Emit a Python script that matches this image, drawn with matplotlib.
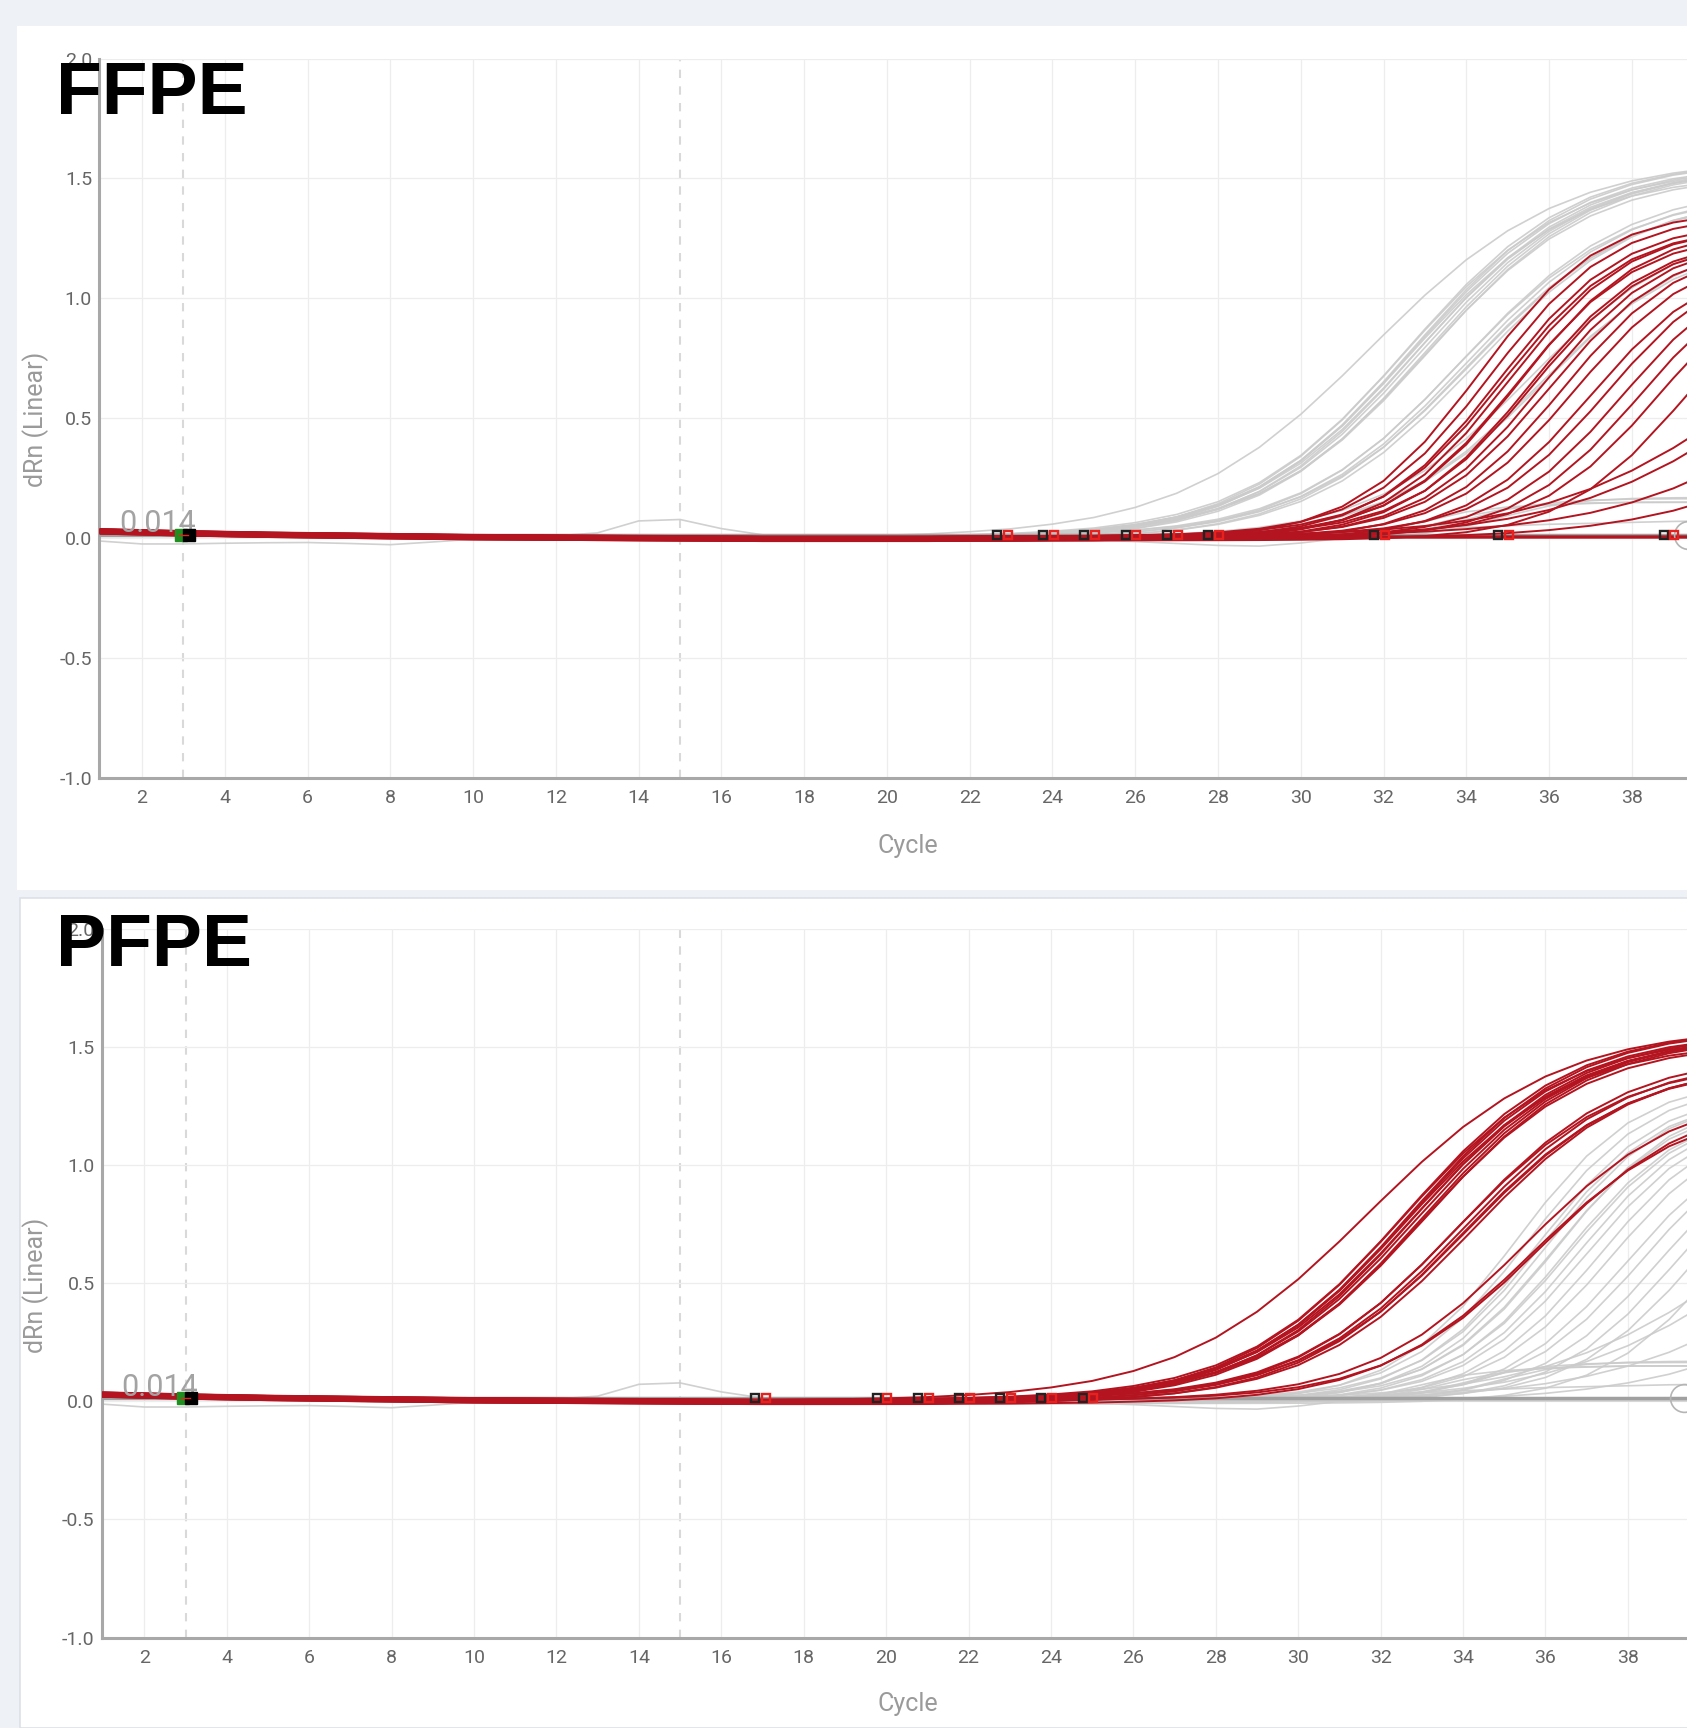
import numpy as np
import matplotlib
matplotlib.use('Agg')
import matplotlib.pyplot as plt
from matplotlib.patches import Rectangle

W, H = 1687, 1728
CYCLES = np.arange(1, 41)

# shared baseline drift of all wells (cycles 1..40)
BASELINE = [0.028, 0.024, 0.020, 0.017, 0.014, 0.012, 0.010, 0.008, 0.006, 0.004,
            0.003, 0.002, 0.001, 0.000, -0.001, -0.002, -0.003, -0.003, -0.003, -0.003,
            -0.003, -0.002, -0.002, -0.001, -0.001, 0.000, 0.000, 0.000, 0.000, 0.000,
            0.000, 0.000, 0.000, 0.000, 0.000, 0.000, 0.000, 0.000, 0.000, 0.000]

# PFPE wells: midpoint cycle, plateau, steepness, baseline offset
PFPE_MID = [31.7, 32.5, 32.6, 32.6, 32.7, 32.7, 32.8, 32.8, 32.9, 33.0, 33.0,
            33.1, 33.8, 33.9, 34.0, 34.0, 34.1, 34.2, 35.5, 35.7, 35.9]
PFPE_PLAT = [1.58, 1.55, 1.57, 1.53, 1.56, 1.58, 1.54, 1.57, 1.55, 1.52, 1.56,
             1.54, 1.45, 1.47, 1.44, 1.46, 1.43, 1.45, 1.32, 1.28, 1.30]
PFPE_SLOPE = [2.3, 2.0, 2.0, 2.0, 2.0, 2.0, 2.0, 2.0, 2.0, 2.0, 2.0,
              2.0, 2.0, 2.0, 2.0, 2.0, 2.0, 2.0, 1.9, 1.9, 1.9]
PFPE_OFF = [0.006, -0.004, 0.009, -0.007, 0.003, -0.001, 0.008, -0.009, 0.001, 0.005, -0.006,
            0.010, -0.003, 0.006, -0.008, 0.000, 0.009, -0.005, 0.003, -0.009, 0.004]

# FFPE wells (midpoints as read in the FFPE panel and in the PFPE panel)
FFPE_MID_TOP = [34.3, 34.6, 34.8, 34.9, 35.0, 35.2, 35.3, 35.5, 35.6, 35.8, 36.0, 36.3,
                36.6, 37.0, 37.4, 37.8, 38.2, 38.7, 39.3, 41.0, 41.5, 43.0, 44.5, 60.0, 60.0]
FFPE_MID_BOT = [35.3, 35.6, 35.8, 35.9, 36.0, 36.2, 36.3, 36.5, 36.6, 36.8, 37.0, 37.3,
                37.6, 38.0, 38.4, 38.8, 39.2, 39.7, 40.3, 41.0, 41.5, 43.0, 44.5, 60.0, 60.0]
FFPE_PLAT = [1.38, 1.35, 1.33, 1.30, 1.32, 1.28, 1.30, 1.27, 1.25, 1.26, 1.24, 1.25,
             1.22, 1.20, 1.20, 1.20, 1.20, 1.20, 1.20, 1.20, 1.20, 1.20, 1.20, 0.0, 0.0]
FFPE_SLOPE = [1.5, 1.5, 1.5, 1.5, 1.5, 1.5, 1.5, 1.5, 1.5, 1.5, 1.5, 1.5,
              1.5, 1.5, 1.5, 1.5, 1.5, 1.5, 1.5, 2.5, 2.5, 2.5, 2.5, 1.0, 1.0]
FFPE_OFF = [-0.006, 0.008, -0.003, 0.009, -0.009, 0.001, 0.006, -0.004, 0.010, -0.001, 0.004, -0.008,
            0.003, -0.006, 0.009, 0.000, -0.003, 0.007, -0.009, 0.004, -0.002, 0.006, -0.005, 0.002, 0.008]

# other wells with a small plateau
LOW_MID = [33.6, 34.1, 34.8]
LOW_PLAT = [0.15, 0.165, 0.17]
LOW_SLOPE = [0.9, 0.9, 0.9]

# two irregular wells, read cycle by cycle
ODD_1 = [-0.012, -0.024, -0.024, -0.021, -0.019, -0.018, -0.022, -0.027, -0.016, -0.004,
         0.004, 0.010, 0.022, 0.072, 0.078, 0.040, 0.014, 0.006, 0.004, 0.004,
         0.004, 0.004, 0.004, 0.004, 0.004, 0.004, 0.004, 0.004, 0.004, 0.004,
         0.010, 0.030, 0.070, 0.110, 0.130, 0.140, 0.145, 0.150, 0.150, 0.150]
ODD_2 = [0.020, 0.016, 0.013, 0.010, 0.008, 0.006, 0.004, 0.002, 0.000, -0.002,
         -0.003, -0.004, -0.004, -0.004, -0.004, -0.004, -0.004, -0.004, -0.004, -0.004,
         -0.004, -0.004, -0.004, -0.004, -0.008, -0.014, -0.022, -0.030, -0.033, -0.020,
         0.000, 0.020, 0.035, 0.045, 0.052, 0.058, 0.062, 0.066, 0.070, 0.072]

THRESHOLD = 0.014
TOP_CT_MARKS = [22.8, 23.9, 24.9, 25.9, 26.9, 27.9, 31.9, 34.9, 38.9]
BOT_CT_MARKS = [16.95, 19.9, 20.9, 21.9, 22.9, 23.9, 24.9]

RED = '#b3141f'
GRAY = '#cbcbcb'


def curves(mids, plats, slopes, offs):
    base = np.array(BASELINE)
    out = []
    for m, p, s, o in zip(mids, plats, slopes, offs):
        out.append(base + o + p / (1 + np.exp(-(CYCLES - m) / s)))
    return out


pfpe = curves(PFPE_MID, PFPE_PLAT, PFPE_SLOPE, PFPE_OFF)
ffpe_top = curves(FFPE_MID_TOP, FFPE_PLAT, FFPE_SLOPE, FFPE_OFF)
ffpe_bot = curves(FFPE_MID_BOT, FFPE_PLAT, FFPE_SLOPE, FFPE_OFF)
low = curves(LOW_MID, LOW_PLAT, LOW_SLOPE, [0, 0, 0])
odd = [np.array(ODD_1), np.array(ODD_2)]

fig = plt.figure(figsize=(W / 100, H / 100), dpi=100)
fig.patch.set_facecolor('#eef1f6')
fig.patches.append(Rectangle((17 / W, 1 - 890 / H), 1, 864 / H, transform=fig.transFigure,
                             facecolor='white', edgecolor='none', zorder=-5))
fig.patches.append(Rectangle((20 / W, 0), 1, 1 - 898 / H, transform=fig.transFigure,
                             facecolor='white', edgecolor='#dde1e7', lw=1.2, zorder=-5))


def add_ax(left, top, width, height):
    return fig.add_axes([left / W, 1 - (top + height) / H, width / W, height / H])


def setup(ax, marks):
    ax.set_xlim(0.96, 41)
    ax.set_ylim(-1, 2)
    ax.patch.set_alpha(0)
    ax.set_xticks(range(2, 40, 2))
    yt = np.arange(-1, 2.01, 0.5)
    ax.set_yticks(yt)
    ax.set_yticklabels(['%.1f' % v for v in yt])
    ax.grid(color='#ededed', lw=0.9, zorder=0)
    for s in ['top', 'right']:
        ax.spines[s].set_visible(False)
    for s in ['left', 'bottom']:
        ax.spines[s].set_color('#a8a8a8')
        ax.spines[s].set_linewidth(2.2)
    ax.tick_params(length=0, labelsize=14, colors='#666666')
    ax.tick_params(axis='x', pad=8)
    ax.tick_params(axis='y', pad=5)
    for lab in ax.get_xticklabels() + ax.get_yticklabels():
        lab.set_family('Roboto')
    for c in (3, 15):
        ax.axvline(c, color='#d9d9d9', lw=1.5, ls=(0, (4, 4)), zorder=1)
    ax.axhline(THRESHOLD, color='#a0a0a0', lw=2.5, zorder=3)
    ax.text(1.45, 0.024, '0.014', fontsize=22, color='#a3a3a3', family='Roboto', zorder=6)
    ax.plot(39.35, THRESHOLD, 'o', ms=20, mfc='none', mec='#b5b5b5', mew=1.2, zorder=6)
    for c in marks:
        ax.plot(c - 0.13, THRESHOLD, 's', ms=6, mfc='none', mec='#222222', mew=1.7, zorder=6)
        ax.plot(c + 0.13, THRESHOLD, 's', ms=6, mfc='none', mec='#e8211f', mew=1.7, zorder=6)
    ax.plot(2.93, 0.012, 's', ms=8.5, color='#1f8f1f', zorder=7)
    ax.plot(3.13, 0.012, 's', ms=8.5, color='black', zorder=7)
    ax.plot([2.9, 3.1], [0.012, 0.012], color='#e8211f', lw=1, zorder=8)


def draw(ax, red, gray):
    for y in gray:
        ax.plot(CYCLES, y, color=GRAY, lw=1.2, alpha=0.9, zorder=2)
    for y in red:
        ax.plot(CYCLES, y, color=RED, lw=1.4, zorder=4)


ax1 = add_ax(99.0, 58.6, 1657, 719.4)
setup(ax1, TOP_CT_MARKS)
draw(ax1, ffpe_top, pfpe + low + odd)

ax2 = add_ax(101.5, 928.8, 1650, 708.8)
setup(ax2, BOT_CT_MARKS)
draw(ax2, pfpe, ffpe_bot + low + odd)

for name, yb in (('FFPE', 114), ('PFPE', 966)):
    fig.text(56 / W, 1 - yb / H, name, fontsize=54, weight='bold', family='Liberation Sans',
             va='baseline', ha='left', color='black', zorder=10)

for yc in (419, 1285):
    fig.text(36 / W, 1 - yc / H, 'dRn (Linear)', rotation=90, fontsize=18, color='#9a9a9a',
             family='Roboto', ha='center', va='center')
for yc in (846, 1704):
    fig.text(908 / W, 1 - yc / H, 'Cycle', fontsize=18, color='#9a9a9a',
             family='Roboto', ha='center', va='center')

fig.savefig('out.png', dpi=100, facecolor=fig.get_facecolor())
